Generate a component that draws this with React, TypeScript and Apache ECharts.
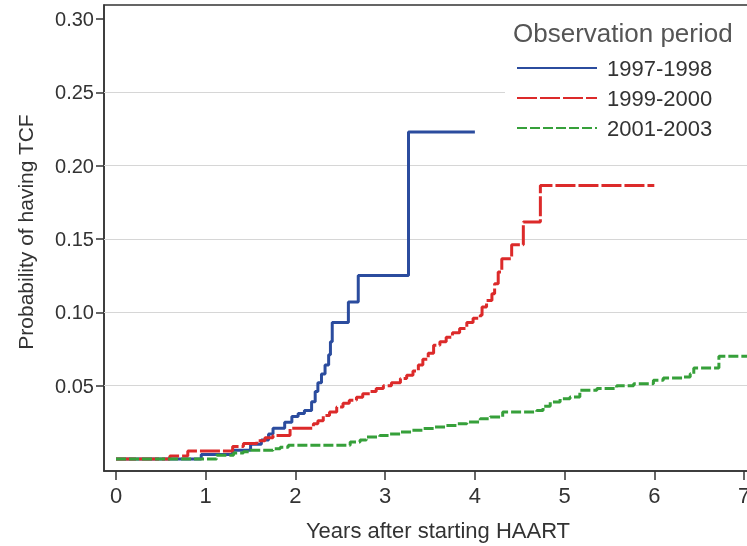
import React, { useEffect, useRef } from "react";
import * as echarts from "echarts";

const xTicks = [0, 1, 2, 3, 4, 5, 6, 7];
const yTicks = [0.05, 0.1, 0.15, 0.2, 0.25, 0.3];
const gridValues = [0.05, 0.1, 0.15, 0.2, 0.25];
const seriesNames = ["1997-1998", "1999-2000", "2001-2003"];

const blueYears = [0, 0.95, 1.3, 1.5, 1.62, 1.7, 1.75, 1.88, 1.96, 2.03, 2.1, 2.18, 2.22, 2.25, 2.29, 2.33, 2.37, 2.39, 2.41, 2.59, 2.7, 3.26, 4.0];
const blueProb = [0, 0.003, 0.006, 0.01, 0.013, 0.017, 0.021, 0.025, 0.029, 0.031, 0.033, 0.039, 0.046, 0.052, 0.058, 0.064, 0.071, 0.08, 0.093, 0.107, 0.125, 0.223, 0.223];

const redYears = [0, 0.6, 0.8, 1.3, 1.42, 1.57, 1.66, 1.75, 1.94, 2.2, 2.25, 2.31, 2.38, 2.46, 2.53, 2.6, 2.68, 2.75, 2.83, 2.9, 2.98, 3.07, 3.17, 3.24, 3.31, 3.37, 3.42, 3.48, 3.54, 3.61, 3.68, 3.75, 3.83, 3.91, 3.98, 4.06, 4.08, 4.13, 4.19, 4.22, 4.26, 4.3, 4.41, 4.54, 4.73, 6.0];
const redProb = [0, 0.002, 0.0055, 0.0085, 0.0105, 0.0125, 0.0145, 0.016, 0.021, 0.024, 0.026, 0.0297, 0.032, 0.0354, 0.038, 0.04, 0.042, 0.0445, 0.046, 0.048, 0.05, 0.052, 0.0548, 0.057, 0.06, 0.064, 0.068, 0.072, 0.0775, 0.08, 0.083, 0.086, 0.089, 0.093, 0.096, 0.098, 0.1036, 0.108, 0.1127, 0.1195, 0.1275, 0.1365, 0.146, 0.1615, 0.1865, 0.1865];

const greenYears = [0, 1.12, 1.31, 1.42, 1.5, 1.75, 1.83, 1.92, 2.61, 2.72, 2.79, 2.94, 3.05, 3.17, 3.3, 3.42, 3.55, 3.68, 3.8, 3.91, 4.06, 4.17, 4.31, 4.69, 4.76, 4.84, 4.95, 5.06, 5.17, 5.36, 5.58, 5.77, 5.99, 6.1, 6.32, 6.4, 6.44, 6.72, 7.1];
const greenProb = [0, 0.0025, 0.004, 0.005, 0.006, 0.007, 0.008, 0.0093, 0.0116, 0.013, 0.015, 0.016, 0.017, 0.0184, 0.0195, 0.0207, 0.0218, 0.0229, 0.024, 0.0252, 0.0275, 0.0286, 0.032, 0.0331, 0.036, 0.0389, 0.041, 0.0423, 0.0468, 0.048, 0.05, 0.0513, 0.0536, 0.0552, 0.0559, 0.0581, 0.062, 0.07, 0.07];

const FONT = "'Liberation Sans', Arial, sans-serif";
const TEXT = "#333333";

function pairs(xs: number[], ys: number[]) {
  return xs.map((x, i) => [x, ys[i]]);
}

export default function App() {
  const ref = useRef<HTMLDivElement>(null);
  useEffect(() => {
    if (!ref.current) return;
    const chart = echarts.init(ref.current, undefined, { renderer: "svg" });
    const mk = (name: string, data: number[][], color: string, type: any) => ({
      name,
      type: "line",
      step: "end",
      symbol: "none",
      showSymbol: false,
      clip: true,
      z: 3,
      data,
      lineStyle: { color, width: 3, type },
      itemStyle: { color },
    });
    chart.setOption({
      animation: false,
      textStyle: { fontFamily: FONT },
      title: {
        text: "Observation period",
        left: 513,
        top: 20,
        padding: 0,
        z: 8,
        textStyle: { fontSize: 26, fontWeight: "normal", color: "#555555", fontFamily: FONT },
      },
      legend: {
        orient: "vertical",
        left: 505,
        top: 15,
        z: 7,
        padding: [42, 60, 11, 11],
        backgroundColor: "#ffffff",
        itemWidth: 80,
        itemHeight: 14,
        itemGap: 8,
        itemStyle: { opacity: 0 },
        textStyle: { fontSize: 22, color: TEXT, fontFamily: FONT, padding: [0, 0, 0, 5] },
        data: seriesNames,
      },
      grid: {
        left: 104,
        top: 5,
        width: 649,
        height: 467,
        show: true,
        borderColor: "#333333",
        borderWidth: 1.5,
      },
      xAxis: {
        type: "value",
        min: -0.134,
        max: 7.1,
        axisLine: { show: true, onZero: false, lineStyle: { color: "#333333", width: 1.5 } },
        axisTick: { show: true, length: 9, customValues: xTicks, lineStyle: { color: "#333333", width: 1.5 } },
        axisLabel: { customValues: xTicks, fontSize: 22, color: TEXT, margin: 13, fontFamily: FONT },
        splitLine: { show: false },
        name: "Years after starting HAART",
        nameLocation: "middle",
        nameGap: 48,
        nameTextStyle: { fontSize: 22, color: TEXT, fontFamily: FONT, padding: [0, 0, 0, 19] },
      },
      yAxis: {
        type: "value",
        min: -0.0082,
        max: 0.3095,
        axisLine: { show: true, onZero: false, lineStyle: { color: "#333333", width: 1.5 } },
        axisTick: { show: true, length: 8, customValues: yTicks, lineStyle: { color: "#333333", width: 1.5 } },
        axisLabel: {
          customValues: yTicks,
          fontSize: 20,
          color: TEXT,
          margin: 10,
          fontFamily: FONT,
          formatter: (v: number) => v.toFixed(2),
        },
        splitLine: { show: false },
        name: "Probability of having TCF",
        nameLocation: "middle",
        nameGap: 68,
        nameRotate: 90,
        nameTextStyle: { fontSize: 21, color: TEXT, fontFamily: FONT, padding: [0, 0, 0, 12] },
      },
      series: [
        {
          name: "gridlines",
          type: "line",
          z: 1,
          data: [],
          markLine: {
            z: 1,
            silent: true,
            symbol: ["none", "none"],
            label: { show: false },
            lineStyle: { color: "#d6d6d6", width: 1.2, type: "solid" },
            data: gridValues.map((v) => ({ yAxis: v })),
          },
        },
        mk(seriesNames[0], pairs(blueYears, blueProb), "#2b4c9e", "solid"),
        mk(seriesNames[1], pairs(redYears, redProb), "#dc2a2a", [20, 3]),
        mk(seriesNames[2], pairs(greenYears, greenProb), "#36a03a", [10, 3]),
      ],
    });
    return () => chart.dispose();
  }, []);
  return <div ref={ref} style={{ position: "fixed", left: 0, top: 0, width: 760, height: 546 }} />;
}
